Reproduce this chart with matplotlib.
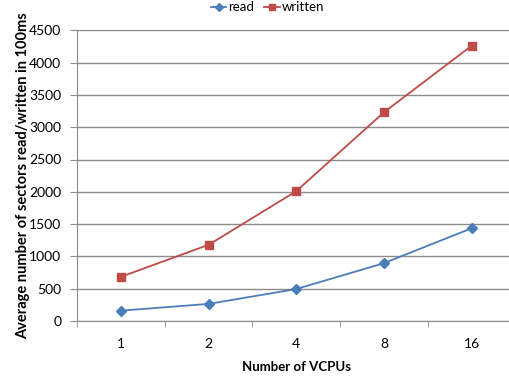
import matplotlib
matplotlib.use('Agg')
import matplotlib.pyplot as plt
import numpy as np

vcpus = ['1', '2', '4', '8', '16']
read = [160, 265, 495, 895, 1435]
written = [685, 1180, 2010, 3230, 4260]

plt.rcParams['font.family'] = ['Lato', 'DejaVu Sans']

fig = plt.figure(figsize=(5.09, 3.81), dpi=100)
W, H = 509, 381
# plot area in pixels
x0, x1 = 77.3, 515.3
y0, y1 = 321, 30.3
ax = fig.add_axes([x0 / W, 1 - y0 / H, (x1 - x0) / W, (y0 - y1) / H])

x = np.arange(len(vcpus))
ax.plot(x, read, color='#4A7EBB', lw=1.3, marker='D', ms=5, label='read')
ax.plot(x, written, color='#BE4B48', lw=1.3, marker='s', ms=6, label='written')

ax.set_xlim(-0.5, 4.5)
ax.set_ylim(0, 4500)
ax.set_yticks(np.arange(0, 4501, 500))
ax.set_xticks(x)
ax.set_xticklabels(vcpus)
ax.set_xticks(np.arange(-0.5, 4.6, 1), minor=True)

ax.yaxis.grid(True, color='#8C8C8C', lw=1)
ax.set_axisbelow(True)
for s in ['top', 'right']:
    ax.spines[s].set_visible(False)
for s in ['left', 'bottom']:
    ax.spines[s].set_color('#8C8C8C')
ax.tick_params(axis='x', which='major', length=0, pad=12, labelsize=10)
ax.tick_params(axis='x', which='minor', length=4, color='#8C8C8C')
ax.tick_params(axis='y', length=5, color='#8C8C8C', labelsize=10, pad=6.5)

ax.set_xlabel('Number of VCPUs', fontsize=9.5, fontweight='bold', labelpad=8)
ax.set_ylabel('Average number of sectors read/written in 100ms',
              fontsize=10.5, fontweight='bold')
ax.yaxis.set_label_coords(-0.108, 0.5)

fig.legend(loc='upper center', bbox_to_anchor=(0.525, 1.028), ncol=2,
           frameon=False, fontsize=9.5, handlelength=1.2, handletextpad=0.1,
           columnspacing=0.8, markerscale=0.8)

fig.savefig('out.png', dpi=100)
